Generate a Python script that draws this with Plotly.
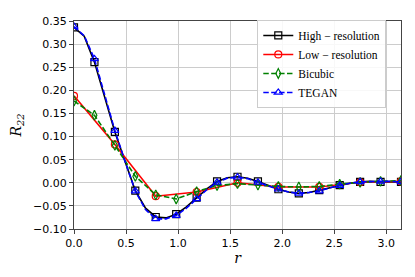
import numpy as np
import plotly.graph_objects as go

# dense grid (pi/32 spacing) for high-resolution and TEGAN
r_dense = [k * np.pi / 32 for k in range(33)]
high_res = [0.336, 0.317, 0.261, 0.185, 0.110, 0.046, -0.017, -0.055, -0.074, -0.076,
            -0.068, -0.052, -0.032, -0.013, 0.003, 0.011, 0.013, 0.010, 0.003, -0.006,
            -0.014, -0.020, -0.023, -0.021, -0.016, -0.010, -0.005, -0.001, 0.002, 0.003,
            0.002, 0.002, 0.002]
tegan = [0.338, 0.318, 0.268, 0.190, 0.113, 0.046, -0.018, -0.058, -0.078, -0.078,
         -0.071, -0.055, -0.035, -0.015, 0.001, 0.010, 0.012, 0.009, 0.001, -0.007,
         -0.014, -0.020, -0.023, -0.021, -0.018, -0.011, -0.006, -0.001, 0.002, 0.003,
         0.003, 0.003, 0.002]
marker_every = 2

# low-resolution (pi/8 spacing)
r_low = [k * np.pi / 8 for k in range(9)]
low_res = [0.188, 0.083, -0.029, -0.020, 0.000, -0.009, -0.009, 0.001, 0.003]

# bicubic (pi/16 spacing)
r_bic = [k * np.pi / 16 for k in range(17)]
bicubic = [0.177, 0.146, 0.081, 0.014, -0.026, -0.035, -0.019, -0.006, -0.002, -0.005,
           -0.008, -0.009, -0.008, -0.003, 0.001, 0.003, 0.005]

y_ticks = [-0.10, -0.05, 0.00, 0.05, 0.10, 0.15, 0.20, 0.25, 0.30, 0.35]
x_ticks = [0.0, 0.5, 1.0, 1.5, 2.0, 2.5, 3.0]

fig = go.Figure()

def add_series(x, y, name, color, symbol, dash, dense=False):
    mk = dict(symbol=symbol, size=7, color=color, line=dict(color=color, width=1.2))
    ln = dict(color=color, width=1.6, dash=dash)
    if dense:
        fig.add_trace(go.Scatter(x=x, y=y, mode="lines", showlegend=False,
                                 line=ln, hoverinfo="skip"))
        fig.add_trace(go.Scatter(x=x[::marker_every], y=y[::marker_every], mode="markers",
                                 showlegend=False, marker=mk))
        fig.add_trace(go.Scatter(x=[None], y=[None], mode="lines+markers", name=name,
                                 line=ln, marker=mk))
    else:
        fig.add_trace(go.Scatter(x=x, y=y, mode="lines+markers", name=name,
                                 line=ln, marker=mk))

dash_style = "5.5px,2.4px"
add_series(r_dense, high_res, "High − resolution", "black", "square-open", "solid", dense=True)
add_series(r_low, low_res, "Low − resolution", "red", "circle-open", "solid")
add_series(r_bic, bicubic, "Bicubic", "green", "diamond-tall-open", dash_style)
add_series(r_dense, tegan, "TEGAN", "blue", "triangle-up-open", dash_style, dense=True)

axis_common = dict(showgrid=True, gridcolor="#cccccc", gridwidth=1,
                   showline=True, linecolor="#444444", linewidth=1.2, mirror=True,
                   ticks="outside", ticklen=4, tickcolor="#444444", tickwidth=1,
                   zeroline=False,
                   tickfont=dict(family="DejaVu Sans", size=11, color="black"))

fig.update_xaxes(range=[0, np.pi], tickvals=x_ticks, tickformat=".1f",
                 title=dict(text="<i>r</i>", font=dict(family="DejaVu Serif", size=14, color="black"),
                            standoff=0),
                 **axis_common)
fig.update_yaxes(range=[-0.10, 0.35], tickvals=y_ticks, tickformat=".2f",
                 title=dict(text="<i>R</i><sub><i>22</i></sub>",
                            font=dict(family="DejaVu Serif", size=14, color="black"),
                            standoff=8),
                 **axis_common)

# page body has an 8px default margin; size the figure so the plot area lands in place
fig.update_layout(
    width=407, height=269,
    margin=dict(l=65, r=14, t=7, b=48),
    plot_bgcolor="white", paper_bgcolor="white",
    legend=dict(x=0.955, y=1.005, xanchor="right", yanchor="top",
                bgcolor="rgba(255,255,255,0.85)", bordercolor="#cccccc", borderwidth=1,
                font=dict(family="Liberation Serif", size=11.5, color="black"),
                tracegroupgap=0, itemwidth=30),
)

fig.write_html("out.html")
